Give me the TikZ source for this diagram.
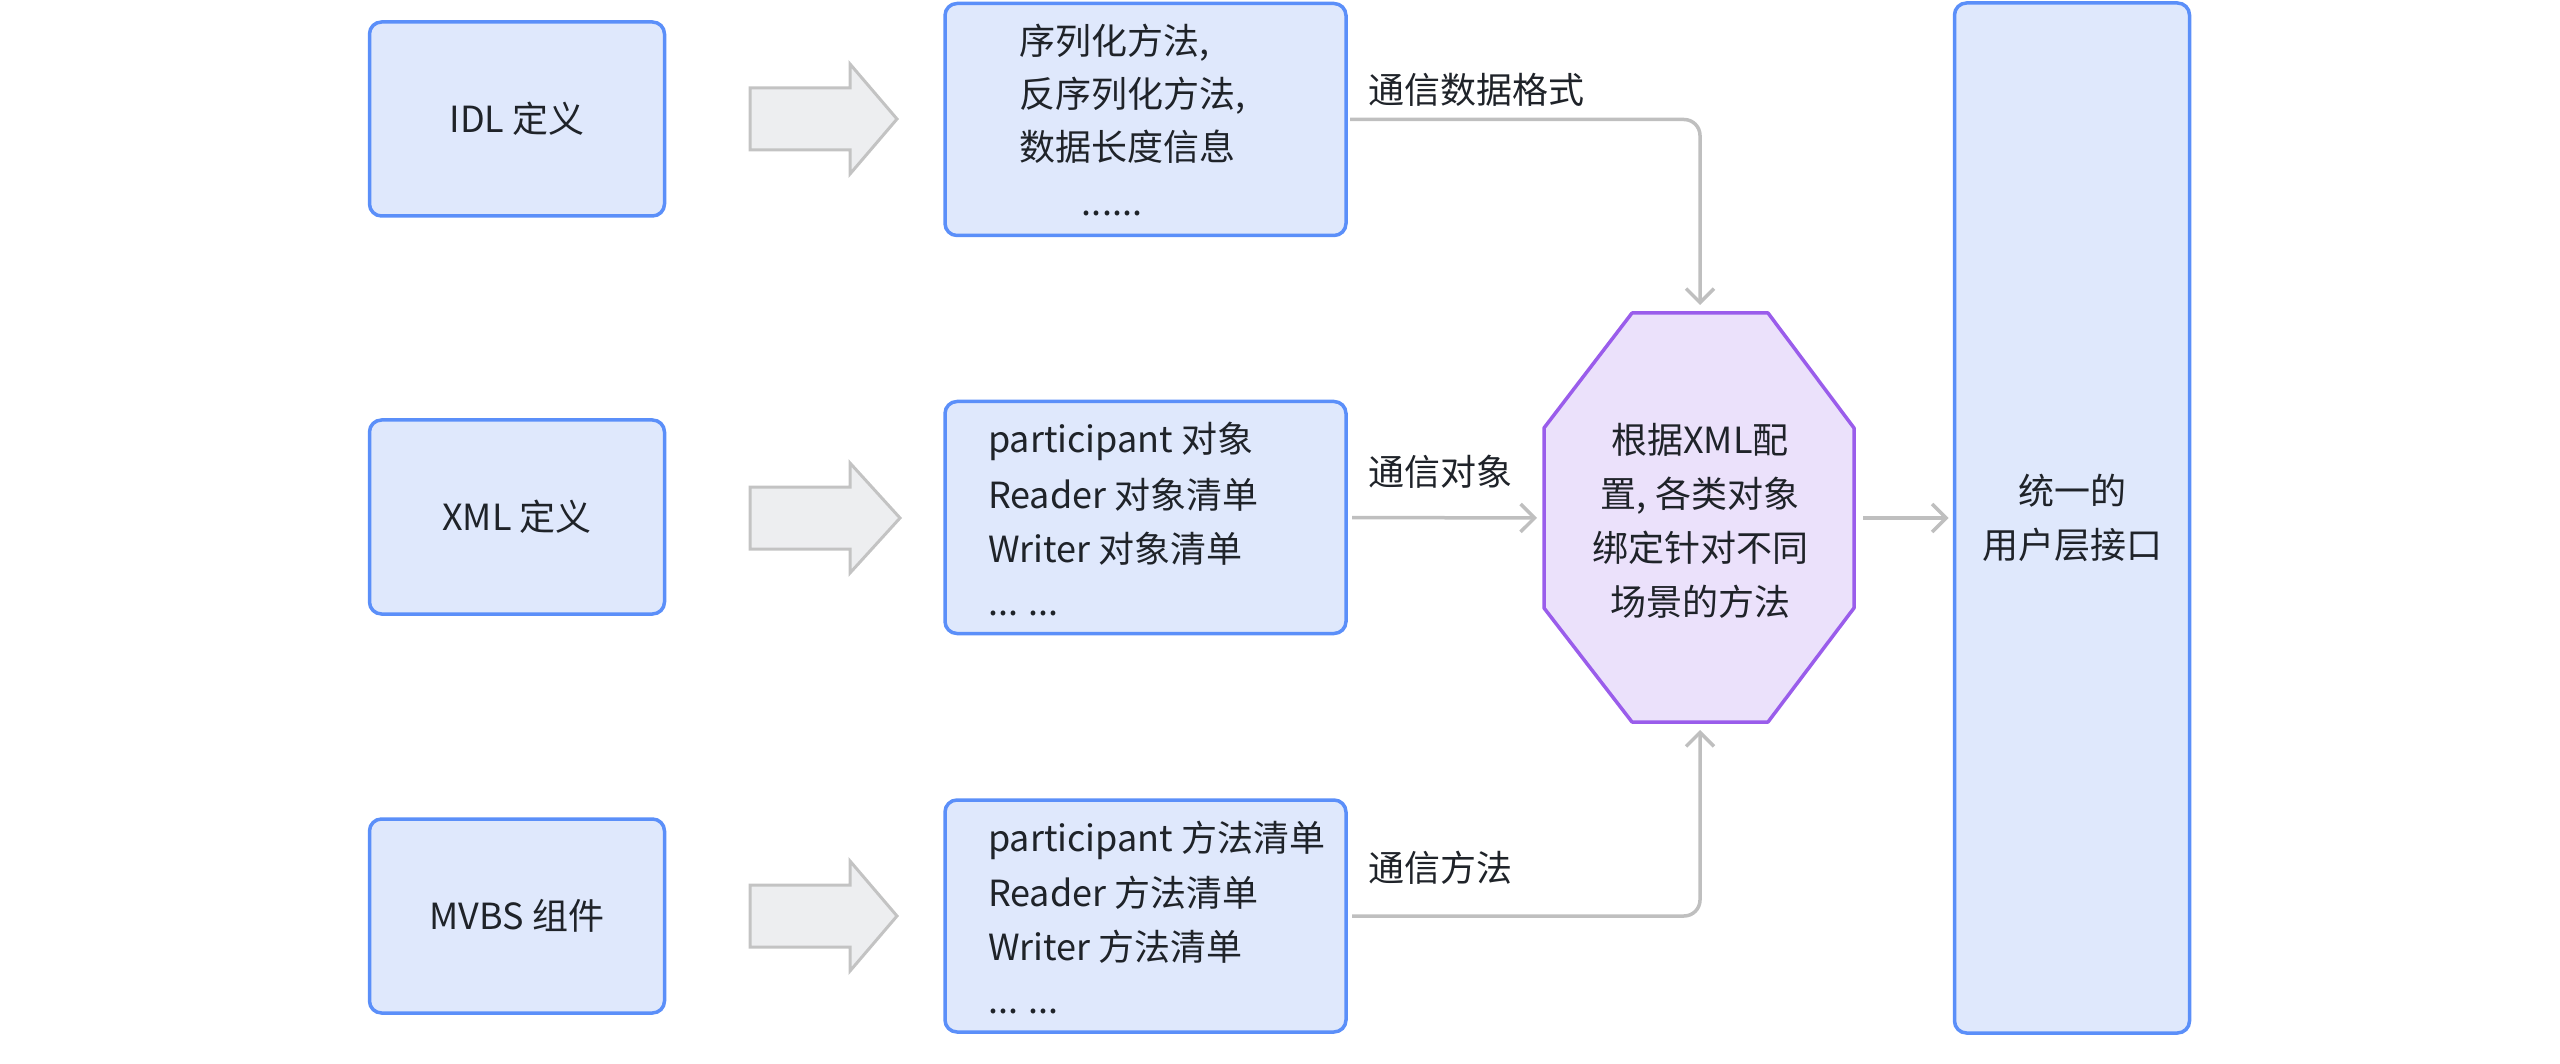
\documentclass[tikz,border=0pt]{standalone}
\usepackage{fontspec}
\setmainfont{Noto Sans CJK SC}
\usetikzlibrary{arrows.meta}
\definecolor{boxfill}{HTML}{DFE8FC}
\definecolor{boxline}{HTML}{5B8FF9}
\definecolor{octfill}{HTML}{EBE1FB}
\definecolor{octline}{HTML}{9A5DEB}
\definecolor{linkgray}{HTML}{BFBFBF}
\definecolor{harrowfill}{HTML}{EDEEF0}
\definecolor{harrowline}{HTML}{C3C3C3}
\definecolor{txt}{HTML}{1F2329}
\begin{document}
\begin{tikzpicture}[x=1pt,y=-1pt,
  every node/.style={text=txt, font=\fontsize{36}{54}\selectfont, inner sep=0pt, outer sep=0pt},
  bluebox/.style={draw=boxline, fill=boxfill, line width=3.5pt, rounded corners=12pt},
  octbox/.style={draw=octline, fill=octfill, line width=3.5pt, line join=round},
  hollow/.style={draw=harrowline, fill=harrowfill, line width=3pt, line join=miter},
  link/.style={draw=linkgray, line width=3.5pt, rounded corners=16pt, -{Straight Barb[length=14pt,width=28pt]}},
  linetext/.style={anchor=base west},
  lbl/.style={anchor=west}
]
\useasboundingbox (0,0) rectangle (2560,1064);

% left boxes
\node[bluebox, minimum width=295pt, minimum height=194pt] (idl) at (517,119) {IDL 定义};
\node[bluebox, minimum width=295pt, minimum height=194pt] (xml) at (517,517) {XML 定义};
\node[bluebox, minimum width=295pt, minimum height=194pt] (mvbs) at (517,916) {MVBS 组件};

% hollow arrows
\foreach \c/\t in {119/897, 518/900, 916/897} {
  \draw[hollow] (750,\c-31) -- (850,\c-31) -- (850,\c-55) -- (\t,\c) -- (850,\c+55) -- (850,\c+31) -- (750,\c+31) -- cycle;
}

% middle boxes
\node[bluebox, minimum width=401pt, minimum height=232pt] (m1) at (1145.5,119.5) {};
\node[bluebox, minimum width=401pt, minimum height=232pt] (m2) at (1145.5,517.5) {};
\node[bluebox, minimum width=401pt, minimum height=232pt] (m3) at (1145.5,916) {};

\node[linetext] (m1a) at (1019,55) {序列化方法,};
\node[linetext] (m1b) at (1019,108) {反序列化方法,};
\node[linetext] (m1c) at (1019,161) {数据长度信息};
\node[anchor=base] (m1d) at (1112,216) {......};

\node[linetext] (m2a) at (988,453) {participant 对象};
\node[linetext] (m2b) at (988,508) {Reader 对象清单};
\node[linetext] (m2c) at (988,562) {Writer 对象清单};
\node[linetext] (m2d) at (988,615) {... ...};

\node[linetext] (m3a) at (988,851) {participant 方法清单};
\node[linetext] (m3b) at (988,906) {Reader 方法清单};
\node[linetext] (m3c) at (988,960) {Writer 方法清单};
\node[linetext] (m3d) at (988,1013) {... ...};

% octagon
\coordinate (octT) at (1700,313);
\coordinate (octB) at (1700,722);
\coordinate (octL) at (1544,518);
\coordinate (octR) at (1854,518);
\draw[octbox] (1632,313) -- (1768,313) -- (1854,428) -- (1854,608) -- (1768,722) -- (1632,722) -- (1544,608) -- (1544,428) -- cycle;
\node[align=center] (oct) at (1700,521) {根据XML配\\置, 各类对象\\绑定针对不同\\场景的方法};

% right box
\node[bluebox, minimum width=235pt, minimum height=1030pt, align=center] (ui) at (2072,518) {统一的\\用户层接口};

% connectors
\draw[link, shorten <=4pt, shorten >=8pt] (m1.east) -| (octT);
\draw[link, shorten <=6pt, shorten >=7pt] (m2.east) -- (octL);
\draw[link, shorten <=6pt, shorten >=8pt] (m3.east) -| (octB);
\draw[link, shorten <=9pt, shorten >=6pt] (octR) -- (ui.west);

% labels
\node[lbl] (l1) at (1368,90) {通信数据格式};
\node[lbl] (l2) at (1368,472) {通信对象};
\node[lbl] (l3) at (1368,868) {通信方法};
\end{tikzpicture}
\end{document}
